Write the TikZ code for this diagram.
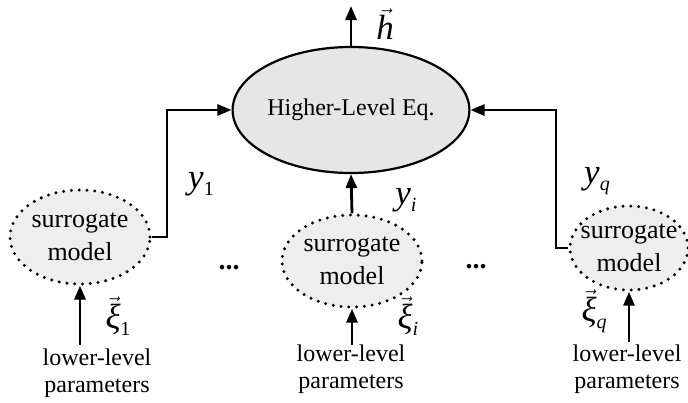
\documentclass[tikz,border=0pt]{standalone}
\usepackage{fontspec}
\setmainfont{Liberation Serif}
\usetikzlibrary{arrows.meta,shapes.geometric}

\definecolor{eqfill}{HTML}{E6E6E6}
\definecolor{surfill}{HTML}{EEEEEE}

% italic symbol with a vector arrow on top
\newcommand{\vecsym}[1]{$\vec{\hbox{\itshape #1}}$}
% lowered, smaller index
\newcommand{\lowsub}[1]{\raisebox{-0.45ex}{\fontsize{20}{20}\selectfont #1}}

\tikzset{
  eqbox/.style={ellipse, draw, line width=2.2pt, fill=eqfill, inner sep=0pt,
    font=\fontsize{24}{28}\selectfont},
  surbox/.style={ellipse, fill=surfill, inner sep=0pt,
    draw, line width=3.3pt, line cap=round, dash pattern=on 0pt off 7.8pt},
  surtext/.style={align=center, inner sep=0pt, font=\fontsize{26}{33}\selectfont},
  partext/.style={align=center, inner sep=0pt, font=\fontsize{24}{27}\selectfont},
  sym/.style={inner sep=0pt, font=\fontsize{35}{35}\selectfont},
  conn/.style={line width=2.8pt, -{Triangle[length=14pt,width=11pt]}},
  dotsym/.style={inner sep=0pt, font=\bfseries\fontsize{28}{28}\selectfont},
}

\begin{document}
\begin{tikzpicture}[x=1pt, y=-1pt]
  \useasboundingbox[fill=white] (0,0) rectangle (688,402);

  % upper-level equation
  \node[eqbox, minimum width=192pt, minimum height=126pt] (hle) at (351,110) {Higher-Level Eq.};

  % surrogate models
  \node[surbox, minimum width=140pt, minimum height=94pt] (s1) at (80,237) {};
  \node[surtext] (s1t) at (s1) {surrogate\\model};
  \node[surbox, minimum width=140pt, minimum height=92pt] (si) at (352,261) {};
  \node[surtext] (sit) at (si) {surrogate\\model};
  \node[surbox, minimum width=118pt, minimum height=84pt] (sq) at (629,248) {};
  \node[surtext] (sqt) at (sq) {surrogate\\model};

  % ellipses between the models
  \node[dotsym] (dl) at (229,268) {...};
  \node[dotsym] (dr) at (476,267) {...};

  % parameter sources
  \node[partext] (p1) at (97,373) {lower-level\\parameters};
  \node[partext] (pi) at (351,369) {lower-level\\parameters};
  \node[partext] (pq) at (627,369) {lower-level\\parameters};

  \coordinate (b1) at (80,345);
  \coordinate (bi) at (352,345);
  \coordinate (bq) at (629,342);
  \coordinate (top) at (351,6);
  \coordinate (c1) at (167,237);
  \coordinate (cq) at (556,248);

  % connectors
  \draw[conn] (hle.north) -- (top);
  \draw[conn] (s1.east) -- (c1) |- (hle.west);
  \draw[conn] (si.north) -- (hle.south);
  \draw[conn] (sq.west) -- (cq) |- (hle.east);
  \draw[conn] (b1) -- (s1.south);
  \draw[conn] (bi) -- (si.south);
  \draw[conn] (bq) -- (sq.south);

  % symbols
  \node[sym] (hv) at (385,24) {\vecsym{h}};
  \node[sym] (y1) at (201,184) {\itshape y\lowsub{\upshape 1}};
  \node[sym] (yi) at (406,200) {\itshape y\lowsub{i}};
  \node[sym] (yq) at (597,181) {\itshape y\lowsub{q}};
  \node[sym] (x1) at (118,316) {\vecsym{ξ}\lowsub{\upshape 1}};
  \node[sym] (xi) at (408,316) {\vecsym{ξ}\lowsub{\itshape i}};
  \node[sym] (xq) at (594,311) {\vecsym{ξ}\lowsub{\itshape q}};
\end{tikzpicture}
\end{document}
